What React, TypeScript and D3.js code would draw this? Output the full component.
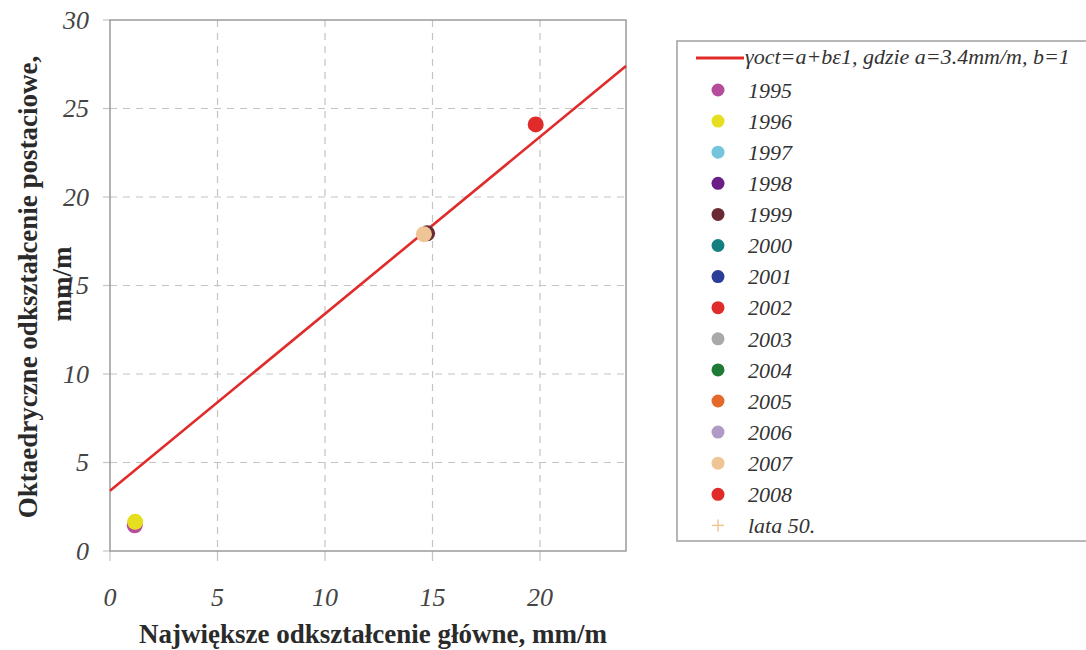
import React from 'react';
import * as d3 from 'd3';

// series shown in the legend
const legendYears = ['1995', '1996', '1997', '1998', '1999', '2000', '2001', '2002', '2003', '2004', '2005', '2006', '2007', '2008', 'lata 50.'];
const legendColors = ['#b54d9c', '#e6df1f', '#73c5dc', '#6b1f86', '#6a2a33', '#13807f', '#2b3f98', '#e12a2a', '#a9a9a9', '#1f7a36', '#e4692a', '#b29ac6', '#efc596', '#e12a2a', '#efc596'];

// measured points (year, x, y)
const pointYears = ['1995', '1996', '1999', '2007', '2008'];
const pointX = [1.15, 1.17, 14.75, 14.6, 19.8];
const pointY = [1.45, 1.65, 17.95, 17.9, 24.1];

// fitted relation gamma_oct = a + b * eps1
const fitA = 3.4;
const fitB = 1;
const fitRange = [0, 24];

const xTicks = [0, 5, 10, 15, 20];
const yTicks = [0, 5, 10, 15, 20, 25, 30];

const W = 1086;
const H = 650;
const serif = '"Liberation Serif", "Times New Roman", serif';

export default function App() {
  const x = d3.scaleLinear().domain([0, 24]).range([110, 626]);
  const y = d3.scaleLinear().domain([0, 30]).range([551, 20]);

  const fitLine = d3.line<number>()
    .x(d => x(d))
    .y(d => y(fitA + fitB * d));

  const colorOf = (yr: string) => legendColors[legendYears.indexOf(yr)];

  const legendX = 677;
  const legendY = 41;
  const rowStart = 90;
  const rowStep = 31.1;

  return (
    <svg width={W} height={H} style={{ position: 'absolute', left: 0, top: 0, background: '#fff' }}>
      {/* grid */}
      {xTicks.filter(t => t > 0).map(t => (
        <line key={'gx' + t} x1={x(t)} x2={x(t)} y1={y(30)} y2={y(0)} stroke="#c4c4c4" strokeWidth={1.2} strokeDasharray="7,6" />
      ))}
      {yTicks.filter(t => t > 0 && t < 30).map(t => (
        <line key={'gy' + t} x1={x(0)} x2={x(24)} y1={y(t)} y2={y(t)} stroke="#c4c4c4" strokeWidth={1.2} strokeDasharray="7,6" />
      ))}
      {/* ticks */}
      {xTicks.map(t => (
        <line key={'tx' + t} x1={x(t)} x2={x(t)} y1={y(0)} y2={y(0) + 10} stroke="#c4c4c4" strokeWidth={1.2} />
      ))}
      {yTicks.map(t => (
        <line key={'ty' + t} x1={x(0) - 7} x2={x(0)} y1={y(t)} y2={y(t)} stroke="#c4c4c4" strokeWidth={1.2} />
      ))}
      {/* frame */}
      <rect x={x(0)} y={y(30)} width={x(24) - x(0)} height={y(0) - y(30)} fill="none" stroke="#9a9a9a" strokeWidth={1.5} />

      {/* fit */}
      <path d={fitLine(fitRange) || ''} fill="none" stroke="#e12a2a" strokeWidth={2.6} />

      {/* points */}
      {pointYears.map((yr, i) => (
        <circle key={'p' + i} cx={x(pointX[i])} cy={y(pointY[i])} r={8} fill={colorOf(yr)} />
      ))}

      {/* tick labels */}
      {xTicks.map(t => (
        <text key={'lx' + t} x={x(t)} y={606} textAnchor="middle" fontFamily={serif} fontStyle="italic" fontSize={26} fill="#444">{t}</text>
      ))}
      {yTicks.map(t => (
        <text key={'ly' + t} x={89} y={y(t)} dy="0.34em" textAnchor="end" fontFamily={serif} fontStyle="italic" fontSize={26} fill="#444">{t}</text>
      ))}

      {/* axis titles */}
      <text x={373} y={643} textAnchor="middle" fontFamily={serif} fontWeight="bold" fontSize={27} fill="#2a2a2a">Największe odkształcenie główne, mm/m</text>
      <text transform="translate(37,287) rotate(-90)" textAnchor="middle" fontFamily={serif} fontWeight="bold" fontSize={27} fill="#2a2a2a">Oktaedryczne odkształcenie postaciowe,</text>
      <text transform="translate(71,284) rotate(-90)" textAnchor="middle" fontFamily={serif} fontWeight="bold" fontSize={27} fill="#2a2a2a">mm/m</text>

      {/* legend */}
      <rect x={legendX} y={legendY} width={430} height={500} fill="#fff" stroke="#a0a0a0" strokeWidth={1.5} />
      <line x1={696} x2={744} y1={58} y2={58} stroke="#e12a2a" strokeWidth={3} />
      <text x={745} y={64} fontFamily={serif} fontStyle="italic" fontSize={22} fill="#333">γoct=a+bε1, gdzie a=3.4mm/m, b=1</text>
      {legendYears.map((yr, i) => {
        const cy = rowStart + i * rowStep;
        const isPlus = yr === 'lata 50.';
        return (
          <g key={'lg' + yr}>
            {isPlus ? (
              <g stroke={legendColors[i]} strokeWidth={1.5}>
                <line x1={712} x2={724} y1={cy} y2={cy} />
                <line x1={718} x2={718} y1={cy - 6} y2={cy + 6} />
              </g>
            ) : (
              <circle cx={718} cy={cy} r={6.5} fill={legendColors[i]} />
            )}
            <text x={748} y={cy} dy="0.35em" fontFamily={serif} fontStyle="italic" fontSize={22} fill="#333">{yr}</text>
          </g>
        );
      })}
    </svg>
  );
}
